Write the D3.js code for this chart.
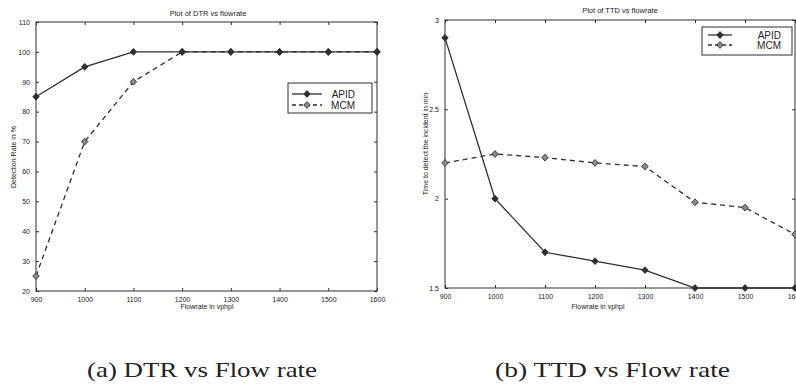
<!DOCTYPE html>
<html><head><meta charset="utf-8">
<script src="https://cdn.jsdelivr.net/npm/d3@7"></script>
<style>
html,body{margin:0;padding:0;background:#fff;}
svg{display:block;}
text{font-family:"Liberation Sans",Arial,sans-serif;fill:#222;}
</style></head>
<body>
<svg id="chart" width="796" height="385"></svg>
<script>
const flowrates = [900, 1000, 1100, 1200, 1300, 1400, 1500, 1600];
const dtrAPID = [85, 95, 100, 100, 100, 100, 100, 100];
const dtrMCM  = [25, 70, 90, 100, 100, 100, 100, 100];
const ttdAPID = [2.9, 2.0, 1.7, 1.65, 1.6, 1.5, 1.5, 1.5];
const ttdMCM  = [2.2, 2.25, 2.23, 2.2, 2.18, 1.98, 1.95, 1.8];
const dtrYTicks = [20, 30, 40, 50, 60, 70, 80, 90, 100, 110];
const ttdYTicks = [1.5, 2, 2.5, 3];
const xTicks = [900, 1000, 1100, 1200, 1300, 1400, 1500, 1600];
const seriesNames = ["APID", "MCM"];

const svg = d3.select("#chart");
const ink = "#2e2e2e";
const diamondPath = "M0,-3.4L3.2,0L0,3.4L-3.2,0Z";

function panel(cfg) {
  const x = d3.scaleLinear().domain([900, 1600]).range([cfg.left, cfg.right]);
  const y = d3.scaleLinear().domain(cfg.yDomain).range([cfg.bottom, cfg.top]);
  const g = svg.append("g");
  g.append("rect").attr("x", cfg.left).attr("y", cfg.top)
    .attr("width", cfg.right - cfg.left).attr("height", cfg.bottom - cfg.top)
    .attr("fill", "none").attr("stroke", ink).attr("stroke-width", 1);
  const tl = 3;
  const xb = d3.axisBottom(x).tickValues(xTicks).tickSizeInner(-tl).tickSizeOuter(0).tickPadding(6).tickFormat(d3.format("d"));
  const xt = d3.axisTop(x).tickValues(xTicks).tickSizeInner(-tl).tickSizeOuter(0).tickFormat("");
  const yl = d3.axisLeft(y).tickValues(cfg.yTicks).tickSizeInner(-tl).tickSizeOuter(0).tickPadding(6).tickFormat(cfg.yFmt);
  const yr = d3.axisRight(y).tickValues(cfg.yTicks).tickSizeInner(-tl).tickSizeOuter(0).tickFormat("");
  const style = sel => {
    sel.select(".domain").remove();
    sel.selectAll("line").attr("stroke", ink);
    sel.selectAll("text").attr("font-size", 7).attr("fill", "#222").attr("font-family", "Liberation Sans, Arial, sans-serif");
  };
  g.append("g").attr("transform", `translate(0,${cfg.bottom})`).call(xb).call(style);
  g.append("g").attr("transform", `translate(0,${cfg.top})`).call(xt).call(style);
  g.append("g").attr("transform", `translate(${cfg.left},0)`).call(yl).call(style);
  g.append("g").attr("transform", `translate(${cfg.right},0)`).call(yr).call(style);

  g.append("text").attr("x", cfg.titleX).attr("y", cfg.titleY).attr("text-anchor", "middle")
    .attr("font-size", 7.5).text(cfg.title);
  g.append("text").attr("x", cfg.xLabelX).attr("y", 309).attr("text-anchor", "middle")
    .attr("font-size", 7).text("Flowrate in vphpl");
  g.append("text").attr("transform", `translate(${cfg.yLabelX},${cfg.yLabelY}) rotate(-90)`)
    .attr("text-anchor", "middle").attr("font-size", 7).text(cfg.yLabel);

  const line = d3.line().x((d, i) => x(flowrates[i])).y(d => y(d));
  const series = [
    {vals: cfg.a, dash: null, fill: ink},
    {vals: cfg.b, dash: "5,4", fill: "#8a8a8a"}
  ];
  const clip = "clip" + cfg.id;
  svg.append("clipPath").attr("id", clip).append("rect")
    .attr("x", cfg.left - 5).attr("y", cfg.top - 5).attr("width", cfg.right - cfg.left + 10).attr("height", cfg.bottom - cfg.top + 10);
  const pg = g.append("g").attr("clip-path", `url(#${clip})`);
  [series[1], series[0]].forEach(s => {
    pg.append("path").datum(s.vals).attr("d", line).attr("fill", "none")
      .attr("stroke", ink).attr("stroke-width", 1.3)
      .attr("stroke-dasharray", s.dash);
    pg.selectAll(null).data(s.vals).enter().append("path")
      .attr("d", diamondPath)
      .attr("transform", (d, i) => `translate(${x(flowrates[i])},${y(d)})`)
      .attr("fill", s.fill).attr("stroke", ink).attr("stroke-width", 0.9);
  });

  const L = cfg.legend;
  g.append("rect").attr("x", L.x0).attr("y", L.y0).attr("width", L.x1 - L.x0).attr("height", L.y1 - L.y0)
    .attr("fill", "#fff").attr("stroke", ink).attr("stroke-width", 1);
  seriesNames.forEach((name, i) => {
    const s = series[i];
    const yy = L.rows[i];
    g.append("line").attr("x1", L.lx0).attr("x2", L.lx1).attr("y1", yy).attr("y2", yy)
      .attr("stroke", ink).attr("stroke-width", 1.3).attr("stroke-dasharray", s.dash ? "4,3" : null);
    g.append("path").attr("d", diamondPath).attr("transform", `translate(${(L.lx0 + L.lx1) / 2},${yy})`)
      .attr("fill", s.fill).attr("stroke", ink).attr("stroke-width", 0.9);
    g.append("text").attr("x", L.tx).attr("y", yy + 3.5).attr("text-anchor", "end")
      .attr("font-size", 10).text(name);
  });
}

panel({
  id: "a", left: 36, right: 377, top: 22, bottom: 291,
  yDomain: [20, 110], yTicks: dtrYTicks, yFmt: d3.format("d"),
  a: dtrAPID, b: dtrMCM,
  title: "Plot of DTR vs flowrate", titleX: 208, titleY: 16,
  xLabelX: 207, yLabel: "Detection Rate in %", yLabelX: 16, yLabelY: 157,
  legend: {x0: 288, x1: 372, y0: 83, y1: 113, rows: [94, 105], lx0: 292, lx1: 322, tx: 355}
});

panel({
  id: "b", left: 445, right: 795, top: 20, bottom: 288,
  yDomain: [1.5, 3], yTicks: ttdYTicks, yFmt: d => String(d),
  a: ttdAPID, b: ttdMCM,
  title: "Plot of TTD vs flowrate", titleX: 620, titleY: 13,
  xLabelX: 598, yLabel: "Time to detect the incident in min", yLabelX: 428, yLabelY: 144,
  legend: {x0: 702, x1: 792, y0: 27, y1: 55, rows: [35, 45], lx0: 708, lx1: 732, tx: 781}
});

svg.append("text").attr("x", 87).attr("y", 377)
  .attr("font-size", 21).attr("textLength", 230).attr("lengthAdjust", "spacingAndGlyphs")
  .style("font-family", "'Liberation Serif', 'Times New Roman', serif").attr("fill", "#222")
  .text("(a) DTR vs Flow rate");
svg.append("text").attr("x", 495).attr("y", 377)
  .attr("font-size", 21).attr("textLength", 235).attr("lengthAdjust", "spacingAndGlyphs")
  .style("font-family", "'Liberation Serif', 'Times New Roman', serif").attr("fill", "#222")
  .text("(b) TTD vs Flow rate");
</script>
</body></html>
